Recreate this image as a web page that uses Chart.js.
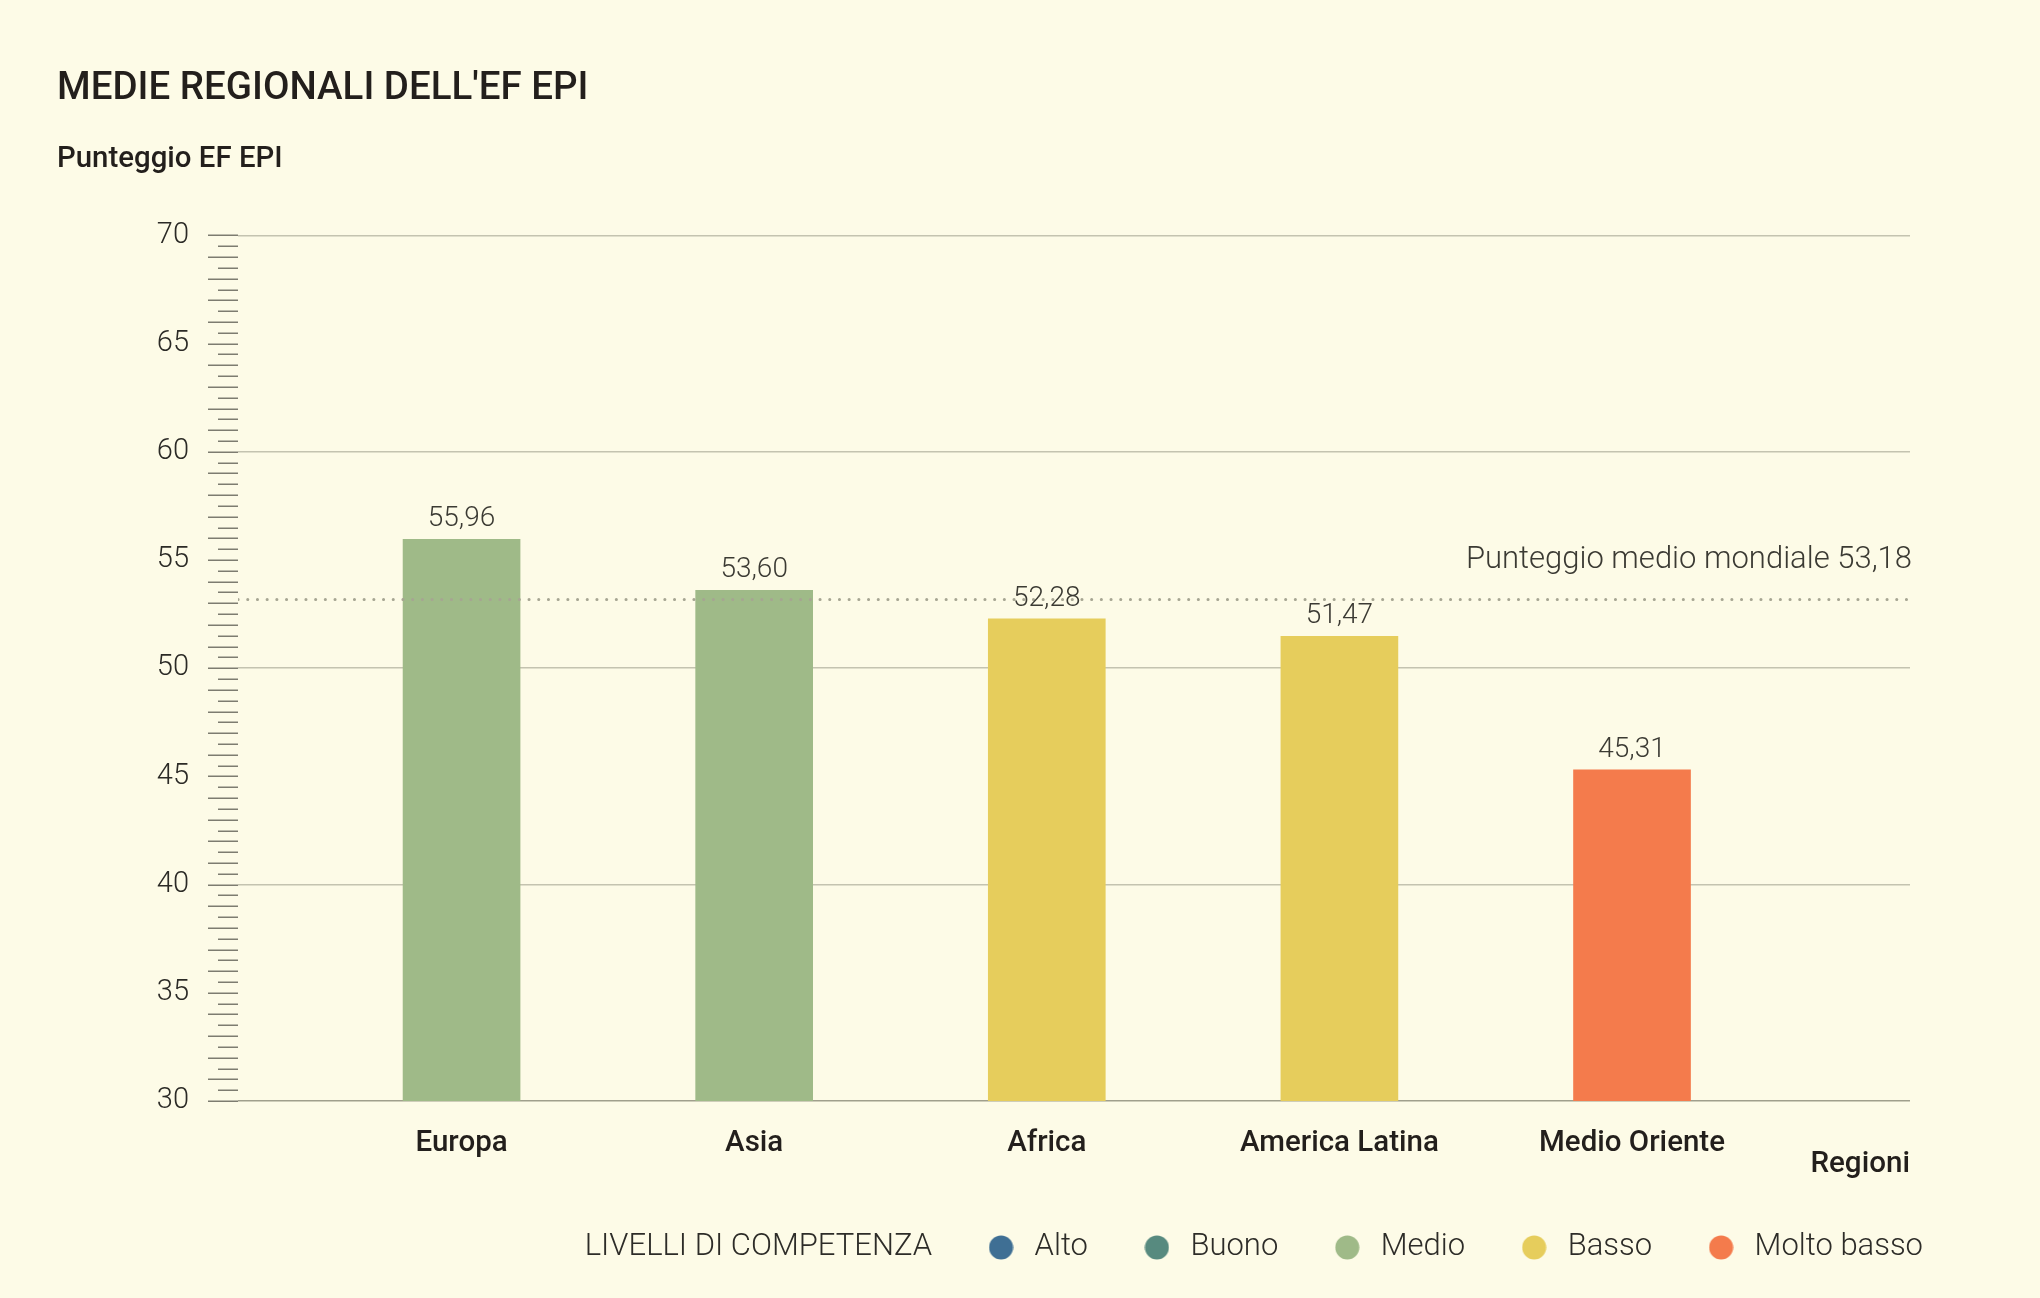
<!DOCTYPE html>
<html>
<head>
<meta charset="utf-8">
<script src="https://cdn.jsdelivr.net/npm/chart.js@4.4.1/dist/chart.umd.min.js"></script>
<style>
  html, body { margin: 0; padding: 0; background: #fdfbe7; }
  #wrap { width: 2040px; height: 1298px; }
</style>
</head>
<body>
<div id="wrap"><canvas id="c" width="2040" height="1298"></canvas></div>
<script>
// ---- data ----
const regions = ['Europa', 'Asia', 'Africa', 'America Latina', 'Medio Oriente'];
const scores = [55.96, 53.60, 52.28, 51.47, 45.31];
const levels = ['Medio', 'Medio', 'Basso', 'Basso', 'Molto basso'];
const worldAverage = 53.18;
const averageLabel = 'Punteggio medio mondiale 53,18';
const legendTitle = 'LIVELLI DI COMPETENZA';
const levelNames = ['Alto', 'Buono', 'Medio', 'Basso', 'Molto basso'];
const levelColors = ['#3f6f94', '#578a7f', '#9fba88', '#e6cd5c', '#f47b4c'];
const yTicks = [30, 35, 40, 45, 50, 55, 60, 65, 70];
const chartTitle = "MEDIE REGIONALI DELL'EF EPI";
const yTitle = 'Punteggio EF EPI';
const xTitle = 'Regioni';

// ---- layout constants ----
const X_MIN = 0.236, X_MAX = 5.95;
const Y_MIN = yTicks[0], Y_MAX = yTicks[yTicks.length - 1];
const FONT = 'Roboto, "Noto Sans", sans-serif';
const fmt = v => v.toFixed(2).replace('.', ',');
const colorOf = lvl => levelColors[levelNames.indexOf(lvl)];

const barData = regions.map((r, i) => ({ x: i + 1, y: scores[i] }));
const avgData = [{ x: X_MIN, y: worldAverage }, { x: X_MAX, y: worldAverage }];

function makeDot(color) {
  const c = document.createElement('canvas');
  c.width = 25; c.height = 25;
  const g = c.getContext('2d');
  g.fillStyle = color;
  g.beginPath();
  g.arc(12.5, 12.5, 12, 0, Math.PI * 2);
  g.fill();
  return c;
}

const bgPlugin = {
  id: 'bg',
  beforeDraw(chart) {
    const ctx = chart.ctx;
    ctx.save();
    ctx.fillStyle = '#fdfbe7';
    ctx.fillRect(0, 0, chart.width, chart.height);
    ctx.restore();
  }
};

const rulerPlugin = {
  id: 'ruler',
  afterDraw(chart) {
    const y = chart.scales.y;
    const ctx = chart.ctx;
    const right = chart.chartArea.left;
    ctx.save();
    ctx.strokeStyle = '#7d7c70';
    ctx.lineWidth = 1.5;
    for (let v = Y_MIN; v <= Y_MAX + 1e-9; v += 0.5) {
      const py = Math.round(y.getPixelForValue(v)) + 0.25;
      const len = (Math.abs(v - Math.round(v)) < 1e-9) ? 30 : 20;
      ctx.beginPath();
      ctx.moveTo(right - len, py);
      ctx.lineTo(right, py);
      ctx.stroke();
    }
    ctx.restore();
  }
};

const labelsPlugin = {
  id: 'valueLabels',
  afterDatasetsDraw(chart) {
    const ctx = chart.ctx;
    const meta = chart.getDatasetMeta(1);
    ctx.save();
    ctx.font = '300 28px ' + FONT;
    ctx.fillStyle = '#3b3a33';
    ctx.textAlign = 'center';
    ctx.textBaseline = 'alphabetic';
    meta.data.forEach((el, i) => {
      ctx.fillText(fmt(scores[i]), el.x, el.y - 13);
    });
    // average label
    const ly = chart.scales.y.getPixelForValue(worldAverage);
    ctx.font = '300 31px ' + FONT;
    ctx.textAlign = 'right';
    ctx.fillText(averageLabel, chart.chartArea.right + 2, ly - 31);
    ctx.restore();
  }
};

new Chart(document.getElementById('c'), {
  type: 'bar',
  data: {
    datasets: [
      {
        type: 'line',
        label: 'media',
        data: avgData,
        borderColor: '#a6a592',
        borderWidth: 3,
        borderDash: [0.1, 9.6],
        borderCapStyle: 'round',
        pointRadius: 0,
        fill: false,
        order: 0
      },
      {
        type: 'bar',
        label: 'Punteggio',
        data: barData,
        backgroundColor: levels.map(colorOf),
        borderWidth: 0,
        barThickness: 117,
        order: 1
      }
    ]
  },
  options: {
    responsive: false,
    animation: false,
    devicePixelRatio: 1,
    layout: { padding: { left: 57, right: 66, top: 0, bottom: 25 } },
    plugins: {
      tooltip: { enabled: false },
      title: {
        display: true,
        text: chartTitle,
        align: 'start',
        color: '#231f1c',
        font: { family: FONT, size: 38.5, weight: '500' },
        padding: { top: 66, bottom: 0 }
      },
      subtitle: {
        display: true,
        text: yTitle,
        align: 'start',
        color: '#231f1c',
        font: { family: FONT, size: 29.4, weight: '500' },
        padding: { top: 30, bottom: 58 }
      },
      legend: {
        display: true,
        position: 'bottom',
        align: 'end',
        onClick: null,
        labels: {
          usePointStyle: true,
          pointStyleWidth: 36,
          boxHeight: 17,
          padding: 51,
          color: '#2d2c28',
          font: { family: FONT, size: 31, weight: '300' },
          generateLabels() {
            const items = [{
              text: legendTitle,
              fillStyle: 'rgba(0,0,0,0)',
              strokeStyle: 'rgba(0,0,0,0)',
              lineWidth: 0,
              pointStyle: makeDot('rgba(0,0,0,0)'),
              hidden: false,
              fontColor: '#2d2c28'
            }];
            levelNames.forEach((n, i) => items.push({
              text: n,
              fillStyle: levelColors[i],
              strokeStyle: levelColors[i],
              lineWidth: 0,
              pointStyle: makeDot(levelColors[i]),
              hidden: false,
              fontColor: '#2d2c28'
            }));
            return items;
          }
        }
      }
    },
    scales: {
      x: {
        type: 'linear',
        min: X_MIN,
        max: X_MAX,
        offset: false,
        grid: { display: false, drawTicks: false, offset: false },
        border: { display: false },
        ticks: {
          stepSize: 1,
          includeBounds: false,
          autoSkip: false,
          maxRotation: 0,
          padding: 25,
          color: '#231f1c',
          font: { family: FONT, size: 29.5, weight: '500' },
          callback: v => (Number.isInteger(v) && regions[v - 1]) ? regions[v - 1] : ''
        },
        title: {
          display: true,
          text: xTitle,
          align: 'end',
          color: '#231f1c',
          font: { family: FONT, size: 29.6, weight: '500' },
          padding: { top: -39.5, bottom: -1.4 }
        }
      },
      y: {
        type: 'linear',
        position: 'left',
        min: Y_MIN,
        max: Y_MAX,
        border: { display: false },
        grid: {
          drawTicks: false,
          lineWidth: 1.5,
          color: c => c.tick && c.tick.value === Y_MIN ? '#a09f8c' : (c.tick && c.tick.value % 10 === 0 ? '#c4c3b0' : 'rgba(0,0,0,0)')
        },
        ticks: {
          stepSize: 5,
          padding: 49,
          color: '#2b2a26',
          font: { family: FONT, size: 29, weight: '300' }
        },
        afterFit(s) { s.width = 181; }
      },
      yRight: {
        type: 'linear',
        position: 'right',
        display: true,
        grid: { display: false, drawTicks: false },
        border: { display: false },
        ticks: { display: false },
        afterFit(s) { s.width = 64; }
      }
    }
  },
  plugins: [bgPlugin, rulerPlugin, labelsPlugin]
});
</script>
</body>
</html>
